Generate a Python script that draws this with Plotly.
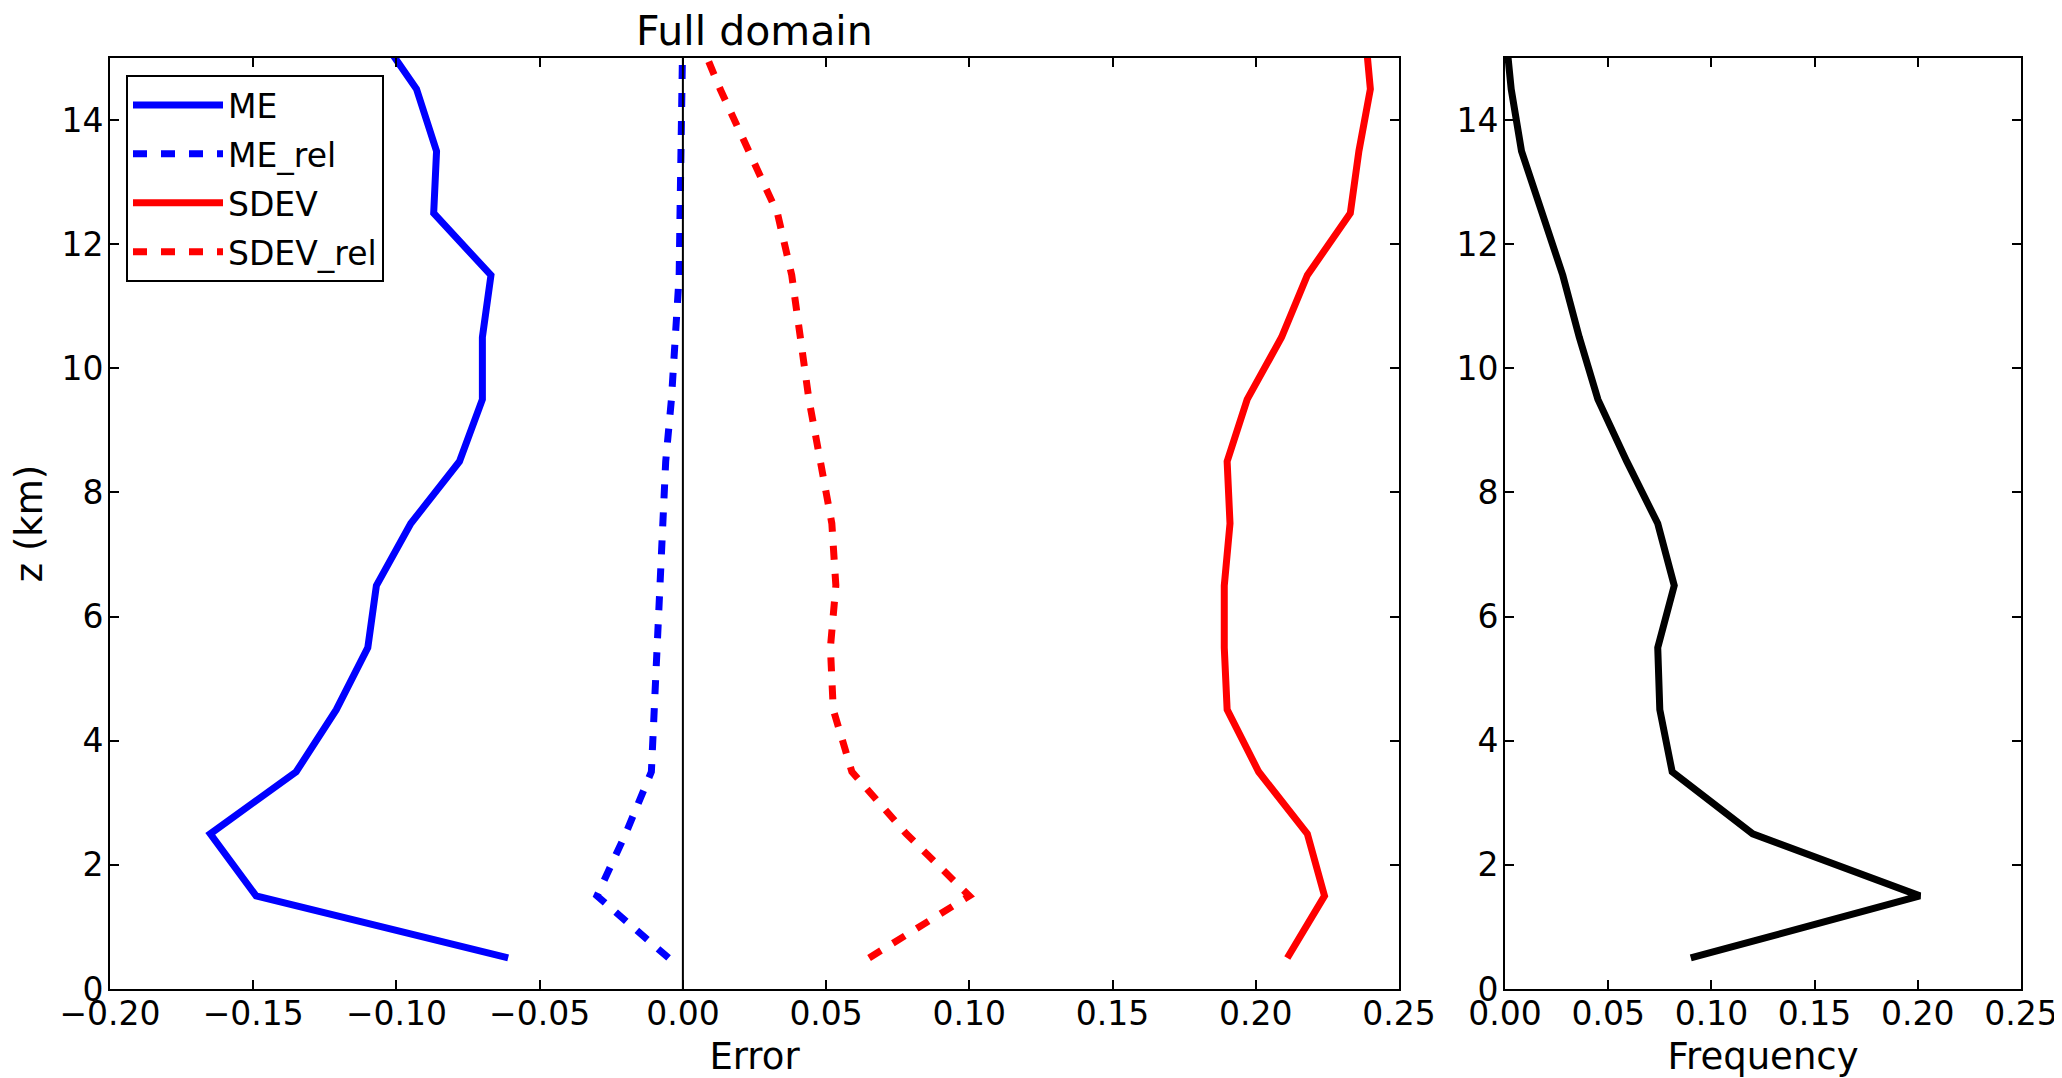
import plotly.graph_objects as go

# Heights (km) of the profile levels
z = [0.5, 1.5, 2.5, 3.5, 4.5, 5.5, 6.5, 7.5, 8.5, 9.5, 10.5, 11.5, 12.5, 13.5, 14.5, 15.5]

me = [-0.061, -0.149, -0.165, -0.135, -0.121, -0.110, -0.107, -0.095, -0.078, -0.070,
      -0.070, -0.067, -0.087, -0.086, -0.093, -0.108]
me_rel = [-0.005, -0.030, -0.020, -0.011, -0.010, -0.009, -0.008, -0.0075, -0.006, -0.004,
          -0.0025, -0.0013, -0.001, -0.0006, -0.0003, 0.0]
sdev = [0.211, 0.224, 0.218, 0.201, 0.190, 0.189, 0.189, 0.191, 0.190, 0.197,
        0.209, 0.218, 0.233, 0.236, 0.240, 0.238]
sdev_rel = [0.065, 0.100, 0.078, 0.059, 0.0525, 0.0515, 0.0534, 0.052, 0.048, 0.044,
            0.041, 0.038, 0.033, 0.023, 0.013, 0.004]
freq = [0.090, 0.201, 0.120, 0.081, 0.075, 0.074, 0.082, 0.074, 0.059, 0.045,
        0.036, 0.028, 0.018, 0.008, 0.003, 0.0]

err_ticks = [-0.20, -0.15, -0.10, -0.05, 0.00, 0.05, 0.10, 0.15, 0.20, 0.25]
freq_ticks = [0.00, 0.05, 0.10, 0.15, 0.20, 0.25]
z_ticks = [0, 2, 4, 6, 8, 10, 12, 14]

FONT = "DejaVu Sans"
LW = 7
DASH = "14px,14px"
TICK_SIZE = 33
LABEL_SIZE = 37

# page has an 8px body margin; figure sized to fit the window
W, H = 2054, 1070
OFF = 8


def px_x(X):
    return (X - OFF) / W


def px_y(Y):
    return 1 - (Y - OFF) / H


fig = go.Figure()
fig.add_trace(go.Scatter(x=me, y=z, mode="lines", name="ME",
                         line=dict(color="#0000ff", width=LW), xaxis="x", yaxis="y",
                         legendgroup="a"))
fig.add_trace(go.Scatter(x=me_rel, y=z, mode="lines", name="ME_rel",
                         line=dict(color="#0000ff", width=LW, dash=DASH), xaxis="x", yaxis="y",
                         legendgroup="b"))
fig.add_trace(go.Scatter(x=sdev, y=z, mode="lines", name="SDEV",
                         line=dict(color="#ff0000", width=LW), xaxis="x", yaxis="y",
                         legendgroup="c"))
fig.add_trace(go.Scatter(x=sdev_rel, y=z, mode="lines", name="SDEV_rel",
                         line=dict(color="#ff0000", width=LW, dash=DASH), xaxis="x", yaxis="y",
                         legendgroup="d"))
fig.add_trace(go.Scatter(x=freq, y=z, mode="lines", name="Frequency",
                         line=dict(color="#000000", width=LW), xaxis="x2", yaxis="y2",
                         showlegend=False))

axis_common = dict(
    showgrid=False, zeroline=False, showline=True, linecolor="black", linewidth=2,
    mirror="allticks", ticks="inside", ticklen=9, tickwidth=1.5, tickcolor="black",
    automargin=False,
    tickfont=dict(family=FONT, size=TICK_SIZE, color="black"),
)

ydom = [px_y(989), px_y(58)]

fig.update_layout(
    width=W, height=H,
    paper_bgcolor="white", plot_bgcolor="white",
    margin=dict(l=0, r=0, t=0, b=0),
    font=dict(family=FONT, color="black"),
    xaxis=dict(domain=[px_x(110), px_x(1399)], range=[-0.2, 0.25], tickvals=err_ticks,
               tickformat=".2f", anchor="y", ticklabelstandoff=-6,
               title=dict(text="Error", font=dict(family=FONT, size=LABEL_SIZE), standoff=14),
               **axis_common),
    yaxis=dict(domain=ydom, range=[0, 15], tickvals=z_ticks, anchor="x", ticklabelstandoff=-2,
               title=dict(text="z (km)", font=dict(family=FONT, size=LABEL_SIZE), standoff=12),
               **axis_common),
    xaxis2=dict(domain=[px_x(1505), px_x(2021)], range=[0, 0.25], tickvals=freq_ticks,
                tickformat=".2f", anchor="y2", ticklabelstandoff=-6,
                title=dict(text="Frequency", font=dict(family=FONT, size=LABEL_SIZE), standoff=14),
                **axis_common),
    yaxis2=dict(domain=ydom, range=[0, 15], tickvals=z_ticks, anchor="x2", ticklabelstandoff=-2,
                **axis_common),
    legend=dict(x=px_x(126), y=px_y(75), xanchor="left", yanchor="top",
                bordercolor="black", borderwidth=2, bgcolor="white",
                font=dict(family=FONT, size=TICK_SIZE, color="black"),
                tracegroupgap=3, itemwidth=90),
    shapes=[dict(type="line", xref="x", yref="y domain", x0=0, x1=0, y0=0, y1=1,
                 line=dict(color="black", width=2))],
    annotations=[dict(text="Full domain", xref="x domain", yref="paper", x=0.5, y=px_y(31),
                      yanchor="middle", showarrow=False,
                      font=dict(family=FONT, size=41, color="black"))],
)

fig.write_html("out.html")
